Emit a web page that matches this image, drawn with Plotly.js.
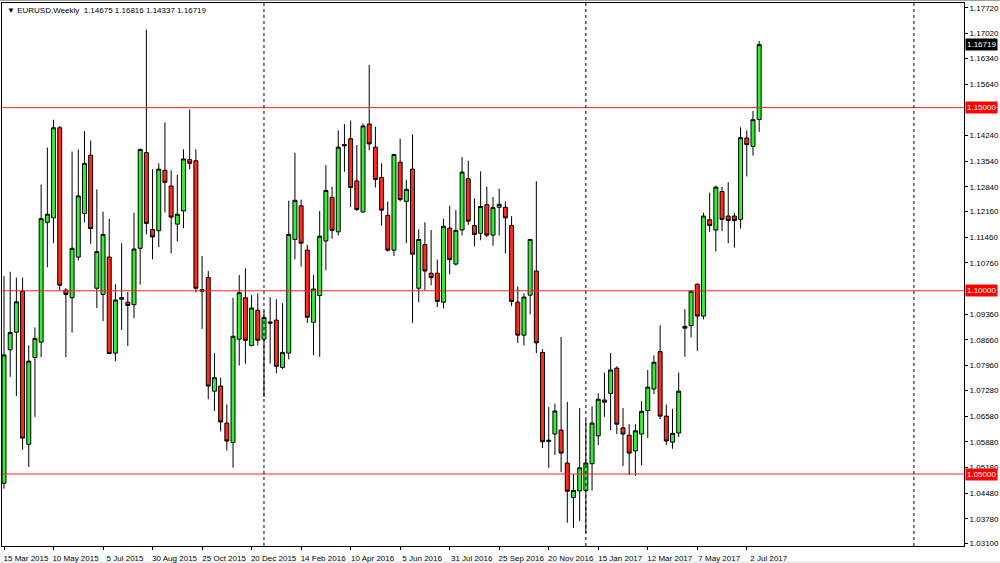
<!DOCTYPE html>
<html><head><meta charset="utf-8">
<script src="https://cdn.plot.ly/plotly-3.0.1.min.js"></script>
<style>html,body{margin:0;padding:0;background:#fff}#chart{width:1000px;height:563px}</style>
</head><body><div id="chart"></div>
<script>
// Weekly EURUSD bars, first bar = week of 15 Mar 2015, last = week of 16 Jul 2017
const open = [
1.0475,1.0839,1.0887,1.0999,1.0581,1.0818,1.0860,1.1187,1.1199,1.1445,
1.1002,1.0981,1.1092,1.1211,1.1370,1.1007,1.0990,1.1092,1.0830,1.0977,
1.0969,1.0962,1.1116,1.1377,1.1167,1.1164,1.1329,1.1286,1.1182,1.1218,
1.1358,1.1355,1.1003,1.1036,1.0726,1.0740,1.0639,1.0586,1.0868,1.0981,
1.0851,1.0947,1.0868,1.0915,1.0920,1.0791,1.0830,1.1140,1.1232,1.1111,
1.0914,1.0987,1.1136,1.1255,1.1161,1.1399,1.1415,1.1300,1.1215,1.1455,
1.1392,1.1309,1.1206,1.1111,1.1351,1.1244,1.1332,1.1007,1.1126,1.1048,
1.1048,1.0969,1.1171,1.1073,1.1166,1.1306,1.1178,1.1157,1.1235,1.1152,
1.1228,1.1228,1.1178,1.0969,1.0879,1.0988,1.1054,1.0832,1.0589,1.0609,
1.0620,1.0530,1.0436,1.0454,1.0455,1.0528,1.0604,1.0702,1.0720,1.0789,
1.0626,1.0606,1.0563,1.0609,1.0673,1.0732,1.0834,1.0658,1.0587,1.0612,
1.0903,1.0905,1.1018,1.0931,1.1194,1.1166,1.1271,1.1204,1.1204,1.1195,
1.1417,1.1394,1.14675];
const high = [
1.1040,1.1052,1.1036,1.1036,1.0851,1.0900,1.1290,1.1391,1.1467,1.1450,
1.1007,1.1380,1.1386,1.1436,1.1410,1.1277,1.1216,1.1197,1.1018,1.1130,
1.0997,1.1213,1.1388,1.1713,1.1332,1.1348,1.1460,1.1329,1.1317,1.1386,
1.1495,1.1386,1.1095,1.1054,1.0830,1.0763,1.0690,1.0981,1.1043,1.1061,
1.0988,1.0993,1.0945,1.0983,1.0977,1.0966,1.1246,1.1377,1.1249,1.1126,
1.1043,1.1218,1.1343,1.1284,1.1438,1.1455,1.1465,1.1398,1.1457,1.1617,
1.1448,1.1348,1.1244,1.1374,1.1415,1.1303,1.1427,1.1168,1.1187,1.1166,
1.1085,1.1197,1.1232,1.1220,1.1365,1.1355,1.1252,1.1326,1.1284,1.1256,
1.1279,1.1244,1.1204,1.1012,1.0993,1.1142,1.1299,1.0841,1.0683,1.0692,
1.0874,1.0697,1.0500,1.0680,1.0649,1.0685,1.0720,1.0777,1.0830,1.0794,
1.0680,1.0636,1.0636,1.0699,1.0784,1.0824,1.0906,1.0690,1.0678,1.0777,
1.0950,1.1001,1.1020,1.1213,1.1268,1.1287,1.1284,1.1296,1.1213,1.1446,
1.1438,1.1491,1.16816];
const low = [
1.0460,1.0765,1.0713,1.0566,1.0519,1.0656,1.0819,1.1064,1.1130,1.1002,
1.0819,1.0886,1.1083,1.1187,1.1128,1.0953,1.0917,1.0827,1.0808,1.0893,
1.0849,1.0925,1.1017,1.1154,1.1086,1.1119,1.1214,1.1102,1.1135,1.1171,
1.1332,1.0996,1.0896,1.0704,1.0672,1.0616,1.0564,1.0517,1.0796,1.0801,
1.0848,1.0851,1.0710,1.0801,1.0775,1.0787,1.0813,1.1086,1.1066,1.0912,
1.0824,1.0820,1.1056,1.1142,1.1151,1.1325,1.1229,1.1218,1.1214,1.1383,
1.1282,1.1178,1.1107,1.1095,1.1244,1.1130,1.0912,1.0969,1.1002,1.1015,
1.0955,1.0952,1.1045,1.1069,1.1151,1.1180,1.1121,1.1138,1.1146,1.1123,
1.1151,1.1102,1.0958,1.0858,1.0851,1.0936,1.0830,1.0571,1.0517,1.0552,
1.0505,1.0367,1.0353,1.0372,1.0339,1.0455,1.0579,1.0656,1.0620,1.0609,
1.0522,1.0497,1.0495,1.0524,1.0598,1.0718,1.0650,1.0579,1.0569,1.0601,
1.0820,1.0873,1.0836,1.0922,1.1161,1.1107,1.1163,1.1130,1.1118,1.1170,
1.1312,1.1369,1.14337];
const close = [
1.0825,1.0886,1.0970,1.0598,1.0808,1.0870,1.1197,1.1209,1.1445,1.1015,
1.0990,1.1116,1.1259,1.1348,1.1170,1.1107,1.1154,1.0829,1.0975,1.0981,
1.0960,1.1114,1.1386,1.1184,1.1147,1.1332,1.1296,1.1201,1.1209,1.1360,
1.1348,1.1007,1.0999,1.0740,1.0763,1.0642,1.0590,1.0876,1.0995,1.0865,
1.0953,1.0865,1.0927,1.0912,1.0794,1.0832,1.1154,1.1247,1.1130,1.0928,
1.1005,1.1149,1.1274,1.1165,1.1392,1.1396,1.1282,1.1222,1.1450,1.1401,
1.1304,1.1220,1.1111,1.1372,1.1249,1.1277,1.1100,1.1140,1.1054,1.1036,
1.0971,1.1176,1.1085,1.1165,1.1324,1.1190,1.1154,1.1230,1.1152,1.1227,
1.1236,1.1199,1.0971,1.0879,1.0983,1.1140,1.0858,1.0588,1.0592,1.0672,
1.0557,1.0453,1.0455,1.0517,1.0530,1.0639,1.0704,1.0696,1.0784,1.0636,
1.0609,1.0557,1.0618,1.0671,1.0737,1.0805,1.0658,1.0590,1.0611,1.0726,
1.0898,1.0999,1.0931,1.1204,1.1178,1.1283,1.1195,1.1192,1.1192,1.1418,
1.1399,1.1467,1.16719];

const monthNames = ['Jan','Feb','Mar','Apr','May','Jun','Jul','Aug','Sep','Oct','Nov','Dec'];
const firstWeekUTC = Date.UTC(2015, 2, 15);
const weeks = open.map((_, i) => {
  const d = new Date(firstWeekUTC + i * 7 * 86400000);
  return d.getUTCDate() + ' ' + monthNames[d.getUTCMonth()] + ' ' + d.getUTCFullYear();
});
const tickLabels = ['15 Mar 2015','10 May 2015','5 Jul 2015','30 Aug 2015','25 Oct 2015','20 Dec 2015',
  '14 Feb 2016','10 Apr 2016','5 Jun 2016','31 Jul 2016','25 Sep 2016','20 Nov 2016',
  '15 Jan 2017','12 Mar 2017','7 May 2017','2 Jul 2017'];
const priceTicks = [1.17720,1.17020,1.16340,1.15640,1.14240,1.13540,1.12840,1.12160,1.11460,1.10760,
  1.09360,1.08660,1.07960,1.07280,1.06580,1.05880,1.05180,1.04480,1.03780,1.03100];
const levels = [1.15, 1.10, 1.05];
const separators = [42, 94, 147]; // bar numbers of the year separators
const symbol = 'EURUSD,Weekly';

const idx = open.map((_, i) => i);
const last = open.length - 1;
const FONT = 'Liberation Sans, Arial, sans-serif';

const trace = {
  type: 'candlestick', x: idx, open, high, low, close, text: weeks,
  increasing: {line: {color: '#000', width: 1}, fillcolor: '#33ee33'},
  decreasing: {line: {color: '#000', width: 1}, fillcolor: '#ff2a1a'},
  whiskerwidth: 0, hoverinfo: 'skip', showlegend: false
};

const shapes = [];
levels.forEach(v => shapes.push({type: 'line', xref: 'paper', x0: 0, x1: 1, yref: 'y', y0: v, y1: v,
  line: {color: '#ff2020', width: 1}}));
separators.forEach(s => shapes.push({type: 'line', xref: 'x', x0: s, x1: s, yref: 'paper', y0: 0, y1: 1,
  line: {color: '#000', width: 1, dash: 'dot'}}));
shapes.push({type: 'line', xref: 'paper', x0: -0.01, x1: 1.05, yref: 'paper', y0: 1.0046, y1: 1.0046,
  line: {color: '#a0a0a0', width: 1}});
shapes.push({type: 'rect', xref: 'paper', x0: -0.01, x1: 1.05, yref: 'paper', y0: -0.0275, y1: -0.04,
  fillcolor: '#ececec', line: {width: 0}, layer: 'below'});

const annotations = [];
levels.forEach(v => annotations.push({xref: 'paper', x: 1, xanchor: 'left', xshift: 1, yref: 'y', y: v,
  text: v.toFixed(5), showarrow: false, bgcolor: '#ff0000', borderpad: 1,
  font: {family: FONT, size: 8, color: '#fff'}}));
annotations.push({xref: 'paper', x: 1, xanchor: 'left', xshift: 1, yref: 'y', y: close[last],
  text: close[last].toFixed(5), showarrow: false, bgcolor: '#000', borderpad: 1,
  font: {family: FONT, size: 8, color: '#fff'}});
annotations.push({xref: 'paper', yref: 'paper', x: 0, y: 1, xanchor: 'left', yanchor: 'top', xshift: 3, yshift: -1,
  showarrow: false,
  text: '▼ ' + symbol + '  ' + [open[last], high[last], low[last], close[last]].map(v => v.toFixed(5)).join(' '),
  font: {family: FONT, size: 8, color: '#000'}});

const layout = {
  width: 1000, height: 563,
  margin: {l: 2, r: 36, t: 3, b: 17, pad: 0},
  paper_bgcolor: '#fff', plot_bgcolor: '#fff',
  boxgap: 0.2, boxgroupgap: 0.2,
  xaxis: {
    range: [-0.323, 155.09], tickvals: tickLabels.map(l => weeks.indexOf(l)), ticktext: tickLabels,
    ticks: 'outside', ticklen: 3, tickcolor: '#000', tickangle: 0, ticklabelshift: 22, ticklabelstandoff: 1,
    showgrid: false, zeroline: false, showline: true, linecolor: '#000', linewidth: 1, mirror: true,
    tickfont: {family: FONT, size: 8, color: '#000'}, rangeslider: {visible: false}, fixedrange: true
  },
  yaxis: {
    side: 'right', range: [1.03035, 1.17855], tickvals: priceTicks, ticktext: priceTicks.map(v => v.toFixed(5)),
    ticks: 'outside', ticklen: 3, tickcolor: '#000',
    showgrid: false, zeroline: false, showline: true, linecolor: '#000', linewidth: 1, mirror: true,
    tickfont: {family: FONT, size: 8, color: '#000'}, fixedrange: true
  },
  shapes, annotations
};

Plotly.newPlot('chart', [trace], layout, {staticPlot: true, displayModeBar: false});
</script></body></html>
